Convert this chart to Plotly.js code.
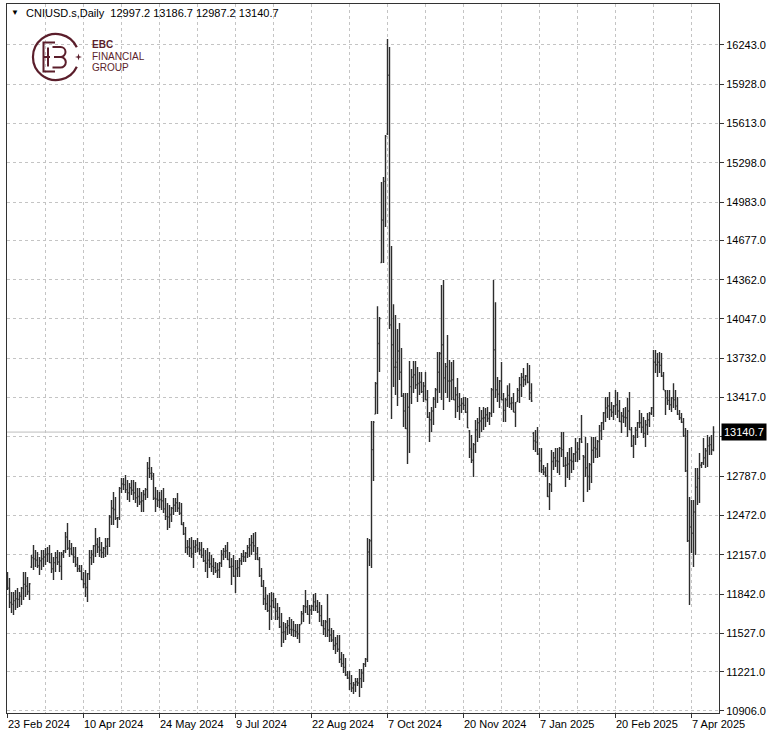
<!DOCTYPE html>
<html><head><meta charset="utf-8">
<script src="https://cdn.plot.ly/plotly-3.0.1.min.js"></script>
<style>html,body{margin:0;padding:0;background:#fff;overflow:hidden}#chart{width:778px;height:738px}</style>
</head><body><div id="chart"></div>
<script>
const symbolName = 'CNIUSD.s,Daily';

const opens = [
12000,11890,11775,11760,11790,11805,11800,11825,11890,11920,11905,11865,12060,12135,12125,12115,12070,12110,12125,12140,12160,12165,12095,12045,12095,12135,12100,12065,12160,12190,12300,12210,12205,12160,12140,12080,12045,12025,11960,11925,11895,12005,12135,12160,12230,12240,12220,12195,12175,12210,12225,12285,12460,12530,12520,12450,12455,12690,12725,12720,12680,12655,12695,12675,12655,12615,12625,12580,12590,12640,12680,
12850,12810,12790,12610,12605,12595,12600,12590,12525,12465,12460,12480,12530,12555,12575,12530,12490,12400,12325,12215,12220,12210,12165,12220,12235,12205,12195,12155,12110,12090,12115,12085,12065,12055,12030,12035,12090,12160,12185,12190,12120,12060,12065,11985,12045,12055,12110,12145,12140,12170,12215,12235,12255,12230,12165,12120,11990,11905,11805,11765,11710,11745,11790,11735,11705,11655,11580,11535,11540,11575,
11590,11560,11560,11550,11540,11525,11602,11685,11745,11740,11680,11715,11745,11780,11745,11700,11670,11590,11565,11620,11555,11515,11475,11430,11445,11400,11320,11285,11255,11195,11170,11125,11090,11115,11140,11130,11165,11210,11280,11320,12180,12270,13000,13285,13530,13850,14500,14840,15150,15530,16000,14000,13840,13660,13660,13790,13620,13430,13310,13170,13340,13505,13580,13600,13520,13530,13540,13465,13510,
13400,13260,13240,13310,13405,13480,13620,13770,13840,13575,13665,13550,13550,13560,13400,13440,13345,13355,13370,13355,13300,13150,13005,12915,13040,13160,13215,13230,13250,13255,13280,13250,13290,13480,13800,13480,13445,13550,13400,13315,13400,13435,13370,13375,13300,13385,13475,13520,13580,13560,13590,13540,13455,13130,13070,13060,12965,12910,12840,12820,12790,12625,12720,12905,12935,12910,12905,13010,13000,12870,12875,12885,
12915,12905,12965,12980,13005,13085,12950,12940,12855,12785,12880,12995,13015,13005,13065,13150,13215,13295,13335,13350,13320,13300,13350,13360,13310,13225,13270,13260,13255,13310,13160,13030,13100,13155,13215,13215,13180,13130,13200,13240,13290,13335,13700,13680,13700,13675,13590,13470,13415,13395,13360,13415,13400,13350,13285,13255,13220,13110,12830,12270,12380,12330,12500,12700,12770,12875,12895,12935,12990,13030,13040,12997.2
];
const highs = [
12019,11971,11859,11859,11875,11891,11859,11899,12019,12019,11979,11931,12155,12235,12195,12179,12139,12195,12195,12211,12219,12235,12171,12139,12179,12195,12179,12179,12195,12340,12412,12275,12251,12219,12219,12139,12075,12075,12019,12035,12011,12195,12195,12235,12372,12292,12300,12259,12219,12292,12292,12476,12596,12660,12620,12460,12700,12772,12772,12796,12756,12732,12756,12756,12740,12692,12692,12660,12676,12692,12900,
12941,12860,12812,12700,12676,12660,12676,12692,12612,12572,12556,12540,12612,12612,12652,12580,12572,12420,12380,12275,12292,12300,12275,12275,12292,12259,12259,12211,12195,12211,12179,12155,12131,12099,12091,12099,12195,12211,12235,12259,12179,12131,12155,12115,12115,12131,12171,12195,12179,12235,12292,12316,12332,12340,12219,12139,12051,11955,11899,11835,11851,11859,11851,11811,11771,11739,11691,11618,11610,11635,
11659,11643,11626,11602,11602,11602,11707,11755,11875,11795,11755,11755,11843,11851,11795,11779,11755,11635,11635,11843,11651,11570,11554,11498,11514,11514,11378,11362,11330,11226,11226,11194,11138,11170,11170,11242,11242,11290,11330,12292,12284,13229,13229,13542,14150,14062,15145,15185,15521,16290,16226,14632,14166,14078,13966,14014,13814,13453,13453,13453,13710,13646,13710,13710,13662,13622,13622,13542,13622,
13477,13301,13341,13421,13493,13782,13782,14320,14360,13694,13918,13718,13702,13718,13501,13574,13453,13413,13421,13421,13413,13157,13117,13053,13237,13253,13341,13317,13341,13333,13341,13301,13493,14360,14182,13582,13558,13702,13453,13413,13517,13533,13421,13453,13381,13493,13582,13614,13654,13598,13694,13678,13533,13141,13157,13181,13013,13013,12876,12860,12892,12732,12997,12981,13013,13013,13021,13141,13141,12941,12981,13013,
13021,12973,13093,13061,13093,13277,12957,13101,13053,12892,13101,13101,13101,13077,13197,13221,13301,13421,13421,13461,13381,13357,13477,13461,13397,13301,13333,13341,13413,13461,13181,13117,13181,13221,13317,13293,13261,13237,13293,13301,13341,13798,13798,13774,13782,13774,13622,13477,13477,13477,13421,13533,13477,13421,13317,13293,13253,13173,13157,12620,12596,12596,12852,12852,12973,12900,13093,13013,13117,13101,13117,13186.7
];
const lows = [
11875,11731,11691,11675,11715,11731,11739,11755,11795,11819,11835,11795,12051,12035,12059,12051,11995,12035,12059,12075,12099,12091,12011,11955,12019,12075,12019,11955,12131,12171,12195,12139,12155,12091,12059,12019,12019,11955,11891,11819,11779,11955,12075,12091,12139,12171,12139,12131,12131,12139,12155,12219,12396,12396,12436,12372,12436,12652,12676,12652,12596,12580,12636,12596,12572,12540,12556,12500,12500,12596,12612,
12772,12756,12596,12500,12540,12532,12516,12492,12436,12356,12372,12420,12476,12500,12500,12476,12396,12316,12171,12155,12139,12131,12051,12171,12179,12155,12131,12099,12019,11971,12051,12019,11995,12011,11971,11971,12059,12115,12131,12115,12051,11915,11979,11851,11979,11979,12075,12099,12099,12131,12139,12155,12179,12115,12115,11979,11899,11755,11715,11699,11554,11635,11731,11635,11635,11570,11418,11450,11474,11514,
11522,11506,11498,11498,11482,11450,11602,11618,11691,11675,11602,11675,11707,11707,11691,11618,11586,11514,11498,11498,11458,11458,11394,11362,11378,11290,11258,11210,11186,11162,11074,11058,11042,11058,11106,11018,11090,11138,11258,11298,12067,12051,12748,13285,13285,13622,14496,14496,14784,15521,13966,13245,13502,13437,13349,13558,13421,13181,13165,12884,12973,13365,13453,13485,13381,13437,13453,13381,13397,
13253,13061,13141,13197,13333,13373,13453,13397,13317,13453,13413,13381,13397,13397,13253,13301,13237,13293,13317,13293,13173,12933,12893,12780,12973,13061,13093,13141,13157,13181,13221,13197,13261,13293,13413,13381,13333,13397,13221,13221,13341,13333,13317,13301,13181,13381,13373,13421,13501,13517,13533,13397,13381,12997,12981,12957,12820,12812,12796,12780,12620,12516,12660,12836,12860,12812,12796,12941,12860,12700,12772,12756,
12812,12836,12900,12900,12917,13053,12580,12780,12660,12676,12732,12892,12933,12933,12941,13077,13157,13221,13253,13237,13261,13237,13277,13253,13221,13133,13213,13181,13101,13157,13021,12933,13037,13093,13173,13133,13093,13021,13117,13181,13277,13261,13614,13582,13614,13582,13477,13277,13357,13317,13301,13333,13317,13277,13237,13213,13101,12820,12259,11755,12171,12059,12155,12556,12572,12852,12876,12852,12860,12957,12957,12987.2
];
const closes = [
11890,11775,11760,11790,11805,11800,11825,11890,11920,11905,11860,11925,12135,12125,12115,12070,12110,12125,12140,12160,12165,12095,12045,12095,12135,12100,12065,12160,12190,12300,12210,12205,12160,12140,12080,12045,12025,11960,11925,11895,12005,12135,12160,12230,12240,12220,12195,12175,12210,12225,12285,12460,12530,12520,12450,12455,12690,12725,12720,12680,12655,12695,12675,12655,12615,12625,12580,12590,12640,12680,12850,
12810,12815,12610,12605,12595,12600,12590,12525,12465,12460,12480,12530,12555,12575,12530,12490,12400,12325,12215,12220,12210,12165,12220,12235,12205,12195,12155,12110,12090,12115,12085,12065,12055,12030,12035,12090,12160,12185,12190,12120,12060,12065,11985,12045,12055,12110,12145,12140,12170,12215,12235,12255,12230,12165,12120,11990,11905,11805,11765,11710,11745,11790,11735,11705,11655,11580,11535,11540,11575,11590,
11560,11555,11550,11540,11525,11595,11685,11745,11740,11680,11715,11745,11780,11745,11700,11670,11590,11565,11620,11555,11515,11475,11430,11445,11400,11320,11285,11255,11195,11170,11125,11090,11115,11140,11130,11165,11210,11280,11320,12180,12270,13000,13220,13530,13850,14050,14840,15150,15510,16000,14000,13840,13660,13700,13790,13620,13430,13310,13170,13340,13505,13580,13600,13520,13530,13540,13465,13510,13400,
13260,13240,13310,13405,13480,13620,13770,13840,13575,13665,13550,13550,13560,13400,13440,13345,13355,13370,13355,13300,13175,13005,12915,13040,13160,13215,13230,13250,13255,13280,13250,13290,13480,13800,13480,13445,13550,13400,13315,13400,13435,13370,13375,13300,13375,13475,13520,13580,13560,13590,13540,13455,13390,13070,13060,12965,12910,12840,12820,12790,12625,12720,12905,12935,12910,12905,13010,13000,12870,12875,12885,12915,
12905,12965,12980,13005,13085,13060,12940,12855,12785,12880,12995,13015,13005,13065,13150,13215,13295,13335,13350,13320,13300,13350,13360,13310,13225,13270,13260,13255,13310,13160,13030,13100,13155,13215,13215,13180,13130,13200,13240,13290,13335,13700,13680,13700,13675,13590,13480,13415,13395,13360,13415,13400,13350,13285,13255,13220,13110,12830,12270,12380,12330,12500,12700,12770,12875,12895,12935,12990,13030,13040,13000,13140.7
];

const dateLabels = ['23 Feb 2024','10 Apr 2024','24 May 2024','9 Jul 2024','22 Aug 2024','7 Oct 2024','20 Nov 2024','7 Jan 2025','20 Feb 2025','7 Apr 2025'];
const dateLabelBars = [0,38,76,114,152,190,228,266,304,342];
const priceTicks = [10906,11221,11527,11842,12157,12472,12787,13102,13417,13732,14047,14362,14677,14983,15298,15613,15928,16243];

const barIndex = highs.map((_, i) => i);
const n = highs.length;
const lastO = opens[n-1], lastH = highs[n-1], lastL = lows[n-1], lastC = closes[n-1];

const W = 778, H = 738, ML = 7, MR = 59, MT = 4, MB = 25;
const pw = W - ML - MR, ph = H - MT - MB;
const px = x => (x - ML) / pw;
const py = y => 1 - (y - MT) / ph;

const FONT = 'Liberation Sans, Arial, sans-serif';
const GRID = '#c4c4c4';
const MAROON = '#5b1e2b';

const trace = {
  type: 'ohlc', x: barIndex, open: opens, high: highs, low: lows, close: closes,
  increasing: {line: {color: '#2e2e2e', width: 1.4}},
  decreasing: {line: {color: '#2e2e2e', width: 1.4}},
  tickwidth: 0.5, hoverinfo: 'skip', showlegend: false
};

const logoSvg = "<svg xmlns='http://www.w3.org/2000/svg' width='52' height='52' viewBox='0 0 52 52'>" +
  "<path d='M46.8 16.3 A23 23 0 1 0 46.8 35.7' fill='none' stroke='" + MAROON + "' stroke-width='2.2'/>" +
  "<path d='M48.5 22.5 L49.3 25.2 L52 26 L49.3 26.8 L48.5 29.5 L47.7 26.8 L45 26 L47.7 25.2 Z' fill='" + MAROON + "'/>" +
  "<path d='M25 11.5 H13.5 V40.5 H25 M13.5 26 H20' fill='none' stroke='" + MAROON + "' stroke-width='2'/>" +
  "<path d='M18 16.5 V35.5 M22.5 16 H30.5 A5 5 0 0 1 30.5 26 H24 M30.5 26 A5.3 5.3 0 0 1 30.5 36.6 H22.5' fill='none' stroke='" + MAROON + "' stroke-width='2'/>" +
  "</svg>";

const annotations = [];
annotations.push({xref:'paper', yref:'paper', x: px(9), y: py(13), xanchor:'left', yanchor:'middle', showarrow:false,
  text:'▼', font:{family: FONT, size: 8, color:'#000'}});
annotations.push({xref:'paper', yref:'paper', x: px(24), y: py(13), xanchor:'left', yanchor:'middle', showarrow:false,
  text: symbolName + '  ' + lastO.toFixed(1) + ' ' + lastH.toFixed(1) + ' ' + lastL.toFixed(1) + ' ' + lastC.toFixed(1),
  font:{family: FONT, size: 11, color:'#000'}});
annotations.push({xref:'paper', yref:'paper', x: px(90), y: py(44.5), xanchor:'left', yanchor:'middle', showarrow:false,
  text:'<b>EBC</b>', font:{family: FONT, size: 10, color: MAROON}});
annotations.push({xref:'paper', yref:'paper', x: px(90), y: py(56.5), xanchor:'left', yanchor:'middle', showarrow:false,
  text:'FINANCIAL', font:{family: FONT, size: 10, color: MAROON}});
annotations.push({xref:'paper', yref:'paper', x: px(90), y: py(68), xanchor:'left', yanchor:'middle', showarrow:false,
  text:'GROUP', font:{family: FONT, size: 10, color: MAROON}});
dateLabels.forEach((t, k) => {
  annotations.push({xref:'x', yref:'paper', x: dateLabelBars[k], y: 0, xanchor:'left', yanchor:'top',
    xshift: -2, yshift: -3, showarrow:false, text: t, font:{family: FONT, size: 11, color:'#000'}});
});
annotations.push({xref:'paper', yref:'y', x: 1, y: lastC, xanchor:'left', yanchor:'middle', xshift: 2,
  showarrow:false, text: lastC.toFixed(1), bgcolor:'#000', borderpad: 2,
  font:{family: FONT, size: 11, color:'#fff'}});

// the 13102.0 label sits under the current-price box, as in the reference
const hiddenTick = 13102;

const layout = {
  width: W, height: H,
  margin: {l: ML, r: MR, t: MT, b: MB, pad: 0},
  paper_bgcolor: '#fff', plot_bgcolor: '#fff',
  showlegend: false, hovermode: false,
  font: {family: FONT, size: 11, color: '#000'},
  xaxis: {
    range: [-0.25, 355.75], tickmode: 'linear', tick0: 0, dtick: 38,
    showticklabels: false, ticks: 'outside', ticklen: 4, tickcolor: '#333',
    showgrid: true, gridcolor: GRID, griddash: '3px,3px', gridwidth: 1,
    minor: {tick0: 0, dtick: 19, showgrid: true, gridcolor: GRID, griddash: '3px,3px', gridwidth: 1, ticks: ''},
    showline: true, linecolor: '#333', linewidth: 1, mirror: true, zeroline: false,
    rangeslider: {visible: false}, fixedrange: true
  },
  yaxis: {
    side: 'right', range: [10889.7, 16571],
    tickmode: 'array', tickvals: priceTicks,
    ticktext: priceTicks.map(v => v === hiddenTick ? '' : v.toFixed(1)),
    ticks: 'outside', ticklen: 4, tickcolor: '#333',
    tickfont: {family: FONT, size: 11, color: '#000'},
    showgrid: true, gridcolor: GRID, griddash: '3px,3px', gridwidth: 1,
    showline: true, linecolor: '#333', linewidth: 1, mirror: true, zeroline: false, fixedrange: true
  },
  shapes: [{type: 'line', xref: 'paper', x0: 0, x1: 1, yref: 'y', y0: lastC, y1: lastC,
    line: {color: '#bdbdbd', width: 1}, layer: 'below'}],
  images: [{source: 'data:image/svg+xml;charset=utf-8,' + encodeURIComponent(logoSvg),
    xref: 'paper', yref: 'paper', x: px(30), y: py(31), sizex: 52 / pw, sizey: 52 / ph,
    xanchor: 'left', yanchor: 'top', sizing: 'stretch', layer: 'above'}],
  annotations: annotations
};

Plotly.newPlot('chart', [trace], layout, {displayModeBar: false, staticPlot: true});
</script>
</body></html>
